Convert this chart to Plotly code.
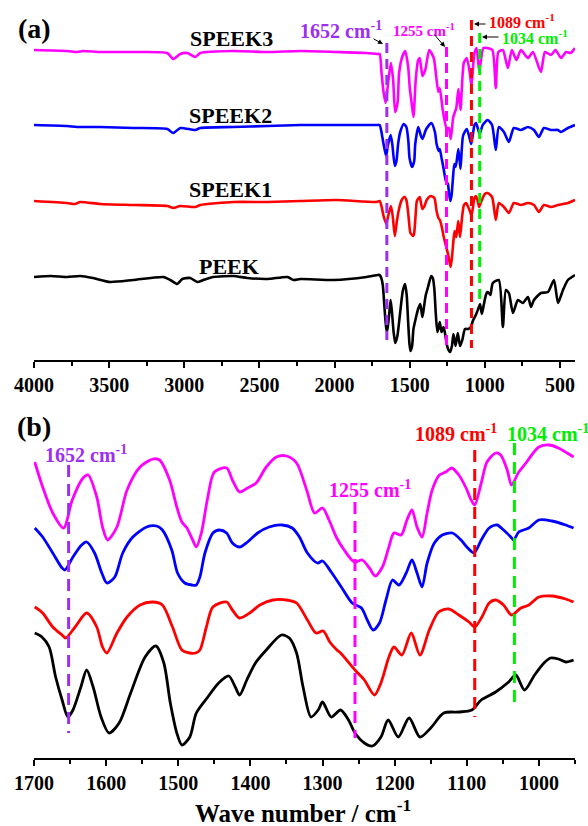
import plotly.graph_objects as go

# ---------------- data (transmittance, arbitrary units, stacked) ----------------
# Panel (a): full range 4000-400 cm-1
top_wn_speek3 = [4000,3780,3713,3673,3560,3340,3113,3073,3027,2980,2927,2893,2673,2447,2227,1987,1787,1720,
                 1700,1688,1674,1660,1640,1625,1610,1597,1580,1571,1550,1530,1510,1500,1487,1475,1460,1445,1433,
                 1415,1395,1370,1340,1310,1300,1280,1255,1240,1227,1210,1190,1176,1162,1140,1120,1100,1089,1070,
                 1055,1037,1010,985,950,927,910,880,847,820,790,760,713,680,627,600,560,530,493,460,430,400]
top_t_speek3 = [310,309,308,309,308,308,307,301,306,307,303,307,309,308,309,308,307,306,
                306,288,268,257,282,297,280,248,258,286,303,309,293,273,257,243,280,299,302,
                284,291,310,302,268,272,250,232,232,221,243,252,271,250,297,302,287,274,306,
                312,289,312,312,310,272,308,310,292,310,300,310,302,308,288,308,305,310,302,308,307,312]

top_wn_speek2 = [4000,3780,3713,3560,3340,3113,3073,3027,2927,2893,2673,2447,2227,1987,1720,
                 1700,1688,1674,1657,1646,1627,1616,1599,1588,1577,1563,1540,1522,1509,1501,1484,1470,1463,
                 1443,1425,1415,1390,1356,1332,1321,1307,1300,1288,1274,1259,1246,1238,1230,1221,1212,1203,
                 1194,1176,1162,1145,1120,1100,1090,1069,1058,1035,1014,982,952,
                 927,907,873,840,807,760,713,673,640,607,560,513,493,447,400]
top_t_speek2 = [235,234,233,233,232,231,227,232,230,232,233,234,235,235,235,
                235,228,216,204,214,225,216,194,199,216,228,236,233,219,202,193,199,216,
                233,224,221,231,237,228,216,209,211,202,191,179,176,167,159,165,182,196,
                193,211,191,224,231,221,216,235,237,226,235,240,235,
                210,233,228,218,232,230,233,230,223,232,230,230,228,232,235]

top_wn_speek1 = [4000,3780,3727,3693,3560,3340,3113,3073,3027,2927,2893,2673,2447,2227,1987,1720,
                 1700,1688,1674,1656,1643,1625,1613,1599,1585,1571,1553,1535,1522,1508,1495,1476,1470,1461,
                 1452,1433,1425,1415,1401,1387,1360,1336,1321,1309,1299,1285,1275,1255,1242,1228,1219,1208,
                 1201,1190,1177,1165,1152,1139,1125,1111,1097,1089,1069,1060,1049,1038,1025,1000,982,952,
                 927,907,873,840,807,760,713,673,640,607,560,513,447,400]
top_t_speek1 = [159,157,156,158,156,155,154,152,154,153,155,158,158,159,160,158,
                159,154,144,136,144,154,144,124,139,151,160,163,160,144,127,124,127,144,
                159,163,157,151,154,160,164,162,149,142,140,132,124,112,104,93,102,121,
                129,123,139,123,142,155,157,153,148,144,162,164,160,153,158,166,167,163,
                140,157,153,147,157,155,157,155,148,155,153,155,157,160]

top_wn_peek = [4000,3887,3780,3693,3607,3493,3340,3140,3093,3047,3013,2960,2913,2873,2807,2673,2580,2447,
               2313,2273,2227,2007,1787,1713,
               1700,1689,1679,1669,1661,1653,1646,1635,1627,1618,1607,1596,1582,1566,1546,1531,1520,1510,
               1502,1495,1484,1475,1459,1444,1430,1421,1415,1405,1393,1378,1357,1346,1336,1327,1316,1306,
               1300,1288,1275,1264,1255,1242,1231,1219,1209,1195,1180,1165,1150,1132,1111,1093,1080,1060,
               1042,1032,1020,1006,993,984,973,963,
               947,907,880,860,840,813,780,747,713,693,673,627,580,540,513,480,447,400]
top_t_peek = [83,84,83,84,82,78,80,83,80,76,81,82,78,80,83,84,82,81,
              83,80,81,80,83,85,
              85,82,75,55,39,28,33,48,60,48,28,17,24,44,69,76,65,37,
              17,9,14,31,42,51,56,48,43,53,65,73,84,82,71,48,28,33,
              38,28,33,26,17,10,8,14,26,14,27,14,20,31,31,33,39,45,
              52,56,46,56,65,68,67,65,
              77,80,33,70,67,47,60,57,63,53,60,67,68,80,57,70,80,85]

# Panel (b): fingerprint region 1700-950 cm-1
bot_wn_speek3 = [1699,1688,1674,1659,1647,1632,1625,1613,1605,1598,1585,1571,1553,1535,1526,1512,1502,1495,
                 1488,1480,1475,1468,1459,1450,1433,1425,1415,1404,1392,1378,1364,1350,1336,1322,1311,
                 1300,1291,1281,1270,1256,1245,1235,1227,1217,1208,1201,1191,1183,1176,1169,1162,1155,1148,
                 1138,1129,1121,1111,1101,1094,1089,1080,1072,1060,1053,1044,1038,1028,1018,1010,1000,986,
                 973,961,952]
bot_t_speek3 = [296,271,245,230,258,280,283,261,231,218,231,268,291,299,298,278,251,236,
                230,218,211,225,261,286,290,278,266,270,275,291,301,302,295,268,245,
                250,238,221,208,196,198,190,182,191,211,225,223,238,248,231,221,245,268,
                283,286,290,283,270,258,253,275,296,305,303,288,273,286,295,303,311,313,
                310,305,301]

bot_wn_speek2 = [1699,1688,1674,1661,1657,1646,1634,1627,1616,1606,1599,1588,1577,1563,1544,1530,1522,1509,
                 1501,1491,1481,1475,1470,1463,1452,1443,1433,1425,1415,1404,1390,1374,1356,1342,1332,1321,
                 1307,1300,1288,1274,1259,1246,1238,1230,1221,1212,1203,1194,1184,1176,1169,1162,1155,1145,
                 1134,1120,1108,1100,1090,1080,1069,1058,1049,1039,1035,1028,1014,1000,982,963,952]
bot_t_speek2 = [230,221,205,190,188,201,213,216,205,185,175,181,205,221,231,232,228,208,
                185,175,173,173,181,205,225,228,225,215,211,216,225,231,233,230,221,205,
                195,197,186,171,155,150,138,128,135,158,178,173,185,198,185,171,195,215,
                223,225,218,211,205,218,230,233,228,221,218,226,230,238,237,233,230]

bot_wn_speek1 = [1699,1688,1674,1661,1656,1643,1627,1613,1605,1599,1585,1571,1553,1535,1522,1508,1495,1484,
                 1476,1470,1461,1452,1433,1425,1415,1401,1387,1369,1350,1336,1321,1309,1299,1290,1280,1275,
                 1255,1242,1228,1219,1208,1201,1190,1177,1165,1152,1139,1125,1111,1097,1089,1079,1069,1060,
                 1049,1038,1025,1014,1000,982,963,952]
bot_t_speek1 = [151,145,131,123,120,131,145,131,111,105,125,141,153,156,153,131,108,105,
                105,108,131,151,156,148,140,145,153,158,158,155,138,125,127,116,108,105,
                88,78,63,75,101,111,103,125,103,128,146,149,143,136,131,141,155,158,
                153,143,150,153,161,162,159,156]

bot_wn_peek = [1699,1689,1679,1670,1661,1653,1646,1635,1627,1618,1607,1596,1582,1566,1546,1531,1520,1511,
               1502,1495,1484,1475,1459,1444,1430,1421,1415,1405,1393,1378,1357,1346,1336,1327,1316,1306,
               1300,1288,1275,1264,1255,1242,1231,1219,1209,1195,1180,1165,1150,1132,1111,1093,1080,1060,
               1042,1032,1020,1006,993,984,973,963,952]
bot_t_peek = [125,121,111,81,58,41,48,71,88,71,41,25,35,65,101,112,95,55,
              25,13,21,45,61,75,82,71,63,78,95,108,123,120,105,71,41,48,
              56,41,48,38,25,15,12,21,38,21,40,21,30,45,46,48,58,66,
              76,83,68,83,95,100,99,96,98]

# Marker bands
band_wn = [1652, 1255, 1089, 1034]
band_labels = ["1652 cm<sup>-1</sup>", "1255 cm<sup>-1</sup>", "1089 cm<sup>-1</sup>", "1034 cm<sup>-1</sup>"]
band_colors = ["#9D2FF2", "#FF00FF", "#FF0000", "#00EE00"]
top_band_lo = [20, 13, 12, 57]
top_band_hi = [317, 313, 340, 327]
bot_band_lo = [25, 20, 41, 56]
bot_band_hi = [293, 256, 308, 315]

sample_names = ["SPEEK3", "SPEEK2", "SPEEK1", "PEEK"]
sample_colors = ["#FF00FF", "#0000FF", "#FF0000", "#000000"]

top_x_ticks = [4000, 3500, 3000, 2500, 2000, 1500, 1000, 500]
bot_x_ticks = [1700, 1600, 1500, 1400, 1300, 1200, 1100, 1000]

# ---------------- figure ----------------
W, H = 588, 826
FONT = "Liberation Serif, Times New Roman, serif"


def px(x):
    return x / W


def py(y):
    return 1 - y / H


fig = go.Figure()

top_sets = [(top_wn_speek3, top_t_speek3), (top_wn_speek2, top_t_speek2),
            (top_wn_speek1, top_t_speek1), (top_wn_peek, top_t_peek)]
bot_sets = [(bot_wn_speek3, bot_t_speek3), (bot_wn_speek2, bot_t_speek2),
            (bot_wn_speek1, bot_t_speek1), (bot_wn_peek, bot_t_peek)]

for (xs, ys), name, col in zip(top_sets, sample_names, sample_colors):
    fig.add_trace(go.Scatter(x=xs, y=ys, mode="lines", name=name,
                             line=dict(color=col, width=2.6, shape="spline", smoothing=0.6),
                             xaxis="x", yaxis="y", showlegend=False))
for (xs, ys), name, col in zip(bot_sets, sample_names, sample_colors):
    fig.add_trace(go.Scatter(x=xs, y=ys, mode="lines", name=name,
                             line=dict(color=col, width=2.8, shape="spline", smoothing=0.8),
                             xaxis="x2", yaxis="y2", showlegend=False))

for wn, col, lo, hi in zip(band_wn, band_colors, top_band_lo, top_band_hi):
    fig.add_trace(go.Scatter(x=[wn, wn], y=[hi, lo], mode="lines",
                             line=dict(color=col, width=3, dash="10px,6px"),
                             xaxis="x", yaxis="y", showlegend=False, hoverinfo="skip"))
for wn, col, lo, hi in zip(band_wn, band_colors, bot_band_lo, bot_band_hi):
    fig.add_trace(go.Scatter(x=[wn, wn], y=[hi, lo], mode="lines",
                             line=dict(color=col, width=3, dash="12px,7px"),
                             xaxis="x2", yaxis="y2", showlegend=False, hoverinfo="skip"))

tick_style = dict(showgrid=False, zeroline=False, showline=True, linecolor="black", linewidth=2,
                  ticks="outside", ticklen=6, tickwidth=2, tickcolor="black",
                  tickfont=dict(family=FONT, size=20, color="black", weight="bold"))

fig.update_layout(
    width=W, height=H,
    margin=dict(l=0, r=0, t=0, b=0, pad=0, autoexpand=False),
    paper_bgcolor="white", plot_bgcolor="white",
    xaxis=dict(domain=[px(34), px(575)], anchor="y", range=[4000, 400],
               tickmode="array", tickvals=top_x_ticks, **tick_style,
               minor=dict(ticks="outside", ticklen=4, tickwidth=2, tickcolor="black", dtick=250, tick0=500)),
    yaxis=dict(domain=[py(360), py(10)], range=[0, 350], visible=False),
    xaxis2=dict(domain=[px(34), px(575)], anchor="y2", range=[1700, 950],
                tickmode="array", tickvals=bot_x_ticks, **tick_style,
                minor=dict(ticks="outside", ticklen=4, tickwidth=2, tickcolor="black", dtick=50, tick0=1000)),
    yaxis2=dict(domain=[py(758), py(410)], range=[0, 348], visible=False),
)

ann = []


def text(x, y, s, size, color="black", xanchor="center", yanchor="middle"):
    ann.append(dict(x=px(x), y=py(y), xref="paper", yref="paper", text=s, showarrow=False,
                    xanchor=xanchor, yanchor=yanchor,
                    font=dict(family=FONT, size=size, color=color, weight="bold")))


# panel letters
text(34, 28, "(a)", 28)
text(34, 427, "(b)", 28)

# sample names
sample_label_pos = [(231, 38), (230, 115), (230, 189), (229, 266)]
for name, (x, y) in zip(sample_names, sample_label_pos):
    text(x, y, name, 22)

# band labels panel (a)
top_label_pos = [(298, 30), (391, 30), (487, 21), (500, 37)]
top_label_size = [20, 15, 16, 16]
for s, col, (x, y), sz in zip(band_labels, band_colors, top_label_pos, top_label_size):
    text(x, y, s, sz, col, xanchor="left")

# band labels panel (b)
bot_label_pos = [(43, 454), (327, 489), (413, 433), (505, 433)]
for s, col, (x, y) in zip(band_labels, band_colors, bot_label_pos):
    text(x, y, s, 20, col, xanchor="left")

# small arrows in panel (a)
arrows = [((383, 44), (-11, -6)), ((445, 47), (-12, -14)), ((474, 24), (13, 0)), ((482, 37), (18, 0))]
for (hx, hy), (dx, dy) in arrows:
    ann.append(dict(x=px(hx), y=py(hy), xref="paper", yref="paper", text="", showarrow=True,
                    ax=dx, ay=dy, arrowhead=2, arrowsize=1, arrowwidth=1, arrowcolor="black"))

# x-axis title
text(303, 811, "Wave number / cm<sup>-1</sup>", 25)

fig.update_layout(annotations=ann)

fig.write_html("out.html",
               config={"displayModeBar": False},
               post_script="document.body.style.margin='0';document.body.style.overflow='hidden';")
